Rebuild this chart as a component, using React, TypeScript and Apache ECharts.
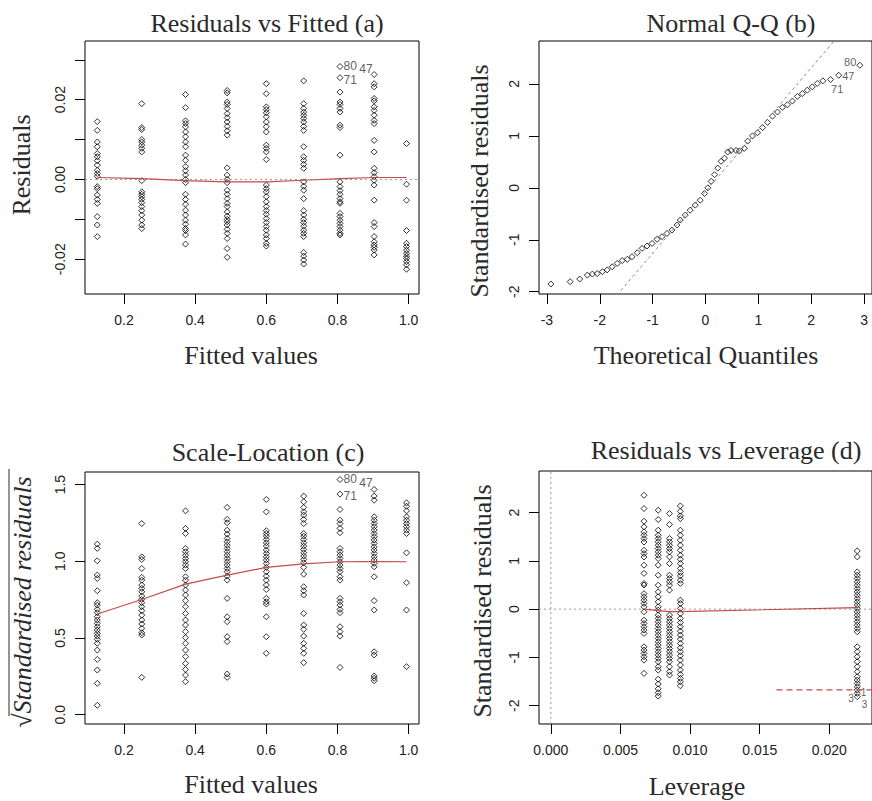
import React, { useEffect, useRef } from "react";
import * as echarts from "echarts";

// ---------- Data ----------
// Fitted value levels (panels a and c)
const fittedLevels = [0.125, 0.25, 0.373, 0.49, 0.6, 0.705, 0.807, 0.903, 0.994];

// Residuals per fitted level (panel a)
const residuals = [
  [0.0145, 0.0123, 0.0094, 0.0082, 0.0065, 0.0057, 0.0047, 0.0036, 0.0023, 0.0015, 0.0008, -0.0018, -0.0023, -0.0039, -0.005, -0.006, -0.0093, -0.0114, -0.0143],
  [0.019, 0.013, 0.0125, 0.01, 0.0094, 0.0086, 0.0078, 0.0069, -0.0003, -0.0031, -0.0037, -0.0043, -0.005, -0.0058, -0.0068, -0.0078, -0.0089, -0.0102, -0.0114, -0.0123],
  [0.0213, 0.018, 0.0147, 0.014, 0.0132, 0.0119, 0.0107, 0.0094, 0.0082, 0.0061, 0.0048, 0.0032, 0.0022, 0.0011, 0, -0.0008, -0.0037, -0.005, -0.0062, -0.0077, -0.0089, -0.0102, -0.0112, -0.0123, -0.0128, -0.0139, -0.0162],
  [0.0223, 0.0217, 0.0194, 0.0188, 0.0178, 0.0165, 0.0155, 0.0144, 0.0133, 0.0122, 0.0111, 0.0029, 0.0011, 0, -0.0008, -0.0027, -0.0037, -0.0048, -0.006, -0.0068, -0.0081, -0.0092, -0.01, -0.0106, -0.0114, -0.0125, -0.0135, -0.0148, -0.0173, -0.0195],
  [0.024, 0.0215, 0.0182, 0.0175, 0.0167, 0.0157, 0.0144, 0.0132, 0.0119, 0.0086, 0.0078, 0.0069, 0.005, -0.0014, -0.0023, -0.0031, -0.0043, -0.0056, -0.0068, -0.0078, -0.0087, -0.0098, -0.0108, -0.0118, -0.0127, -0.0139, -0.0148, -0.016, -0.0167],
  [0.0247, 0.019, 0.0178, 0.0169, 0.0161, 0.0153, 0.0144, 0.0133, 0.0123, 0.0082, 0.0057, 0.0048, 0.0038, 0.0028, -0.0006, -0.0017, -0.0027, -0.0048, -0.0078, -0.0089, -0.01, -0.0108, -0.0117, -0.0127, -0.0135, -0.0143, -0.0183, -0.0192, -0.0202, -0.0212],
  [0.0283, 0.0255, 0.0219, 0.0194, 0.0188, 0.0178, 0.0169, 0.0136, 0.013, 0.0061, -0.0006, -0.0018, -0.0028, -0.0037, -0.0048, -0.0056, -0.006, -0.0085, -0.0093, -0.0102, -0.011, -0.0118, -0.0127, -0.0135, -0.0139],
  [0.0263, 0.024, 0.0232, 0.0203, 0.0197, 0.0182, 0.0173, 0.0161, 0.0148, 0.014, 0.0098, 0.0069, 0.0028, 0.0017, 0.0007, -0.0002, -0.0014, -0.0052, -0.0108, -0.0118, -0.0143, -0.0156, -0.0164, -0.017, -0.0177, -0.0189],
  [0.009, -0.0012, -0.0052, -0.0128, -0.016, -0.0168, -0.0177, -0.0185, -0.0192, -0.0198, -0.0206, -0.0214, -0.0225],
];
const residualSmooth = [0.0005, 0.0002, -0.0003, -0.0006, -0.0006, -0.0002, 0.0002, 0.0005, 0.0005];

// sqrt(|standardised residuals|) per fitted level (panel c)
const sqrtStdResid = [
  [1.112, 1.084, 1.003, 0.91, 0.888, 0.808, 0.73, 0.714, 0.686, 0.665, 0.638, 0.617, 0.595, 0.573, 0.552, 0.53, 0.512, 0.491, 0.465, 0.421, 0.36, 0.291, 0.204, 0.061],
  [1.246, 1.029, 1.012, 0.953, 0.895, 0.877, 0.845, 0.823, 0.801, 0.773, 0.751, 0.73, 0.704, 0.678, 0.649, 0.617, 0.591, 0.562, 0.534, 0.519, 0.243],
  [1.329, 1.214, 1.181, 1.084, 1.062, 1.04, 1.018, 0.997, 0.975, 0.953, 0.899, 0.877, 0.845, 0.812, 0.78, 0.743, 0.704, 0.66, 0.617, 0.584, 0.541, 0.502, 0.465, 0.421, 0.378, 0.334, 0.295, 0.258, 0.215],
  [1.351, 1.273, 1.251, 1.203, 1.177, 1.149, 1.127, 1.105, 1.084, 1.062, 1.04, 1.018, 0.997, 0.975, 0.953, 0.932, 0.903, 0.877, 0.758, 0.638, 0.606, 0.508, 0.476, 0.265, 0.243],
  [1.403, 1.322, 1.199, 1.181, 1.164, 1.142, 1.12, 1.099, 1.073, 1.051, 1.029, 1.008, 0.986, 0.96, 0.932, 0.903, 0.877, 0.845, 0.816, 0.758, 0.736, 0.721, 0.638, 0.508, 0.4],
  [1.425, 1.388, 1.351, 1.322, 1.301, 1.273, 1.246, 1.181, 1.164, 1.142, 1.12, 1.099, 1.077, 1.055, 1.034, 1.012, 0.99, 0.96, 0.916, 0.834, 0.808, 0.78, 0.66, 0.584, 0.556, 0.512, 0.465, 0.432, 0.4, 0.339],
  [1.533, 1.438, 1.338, 1.268, 1.246, 1.214, 1.186, 1.084, 1.062, 1.04, 1.018, 0.997, 0.975, 0.953, 0.932, 0.899, 0.877, 0.758, 0.736, 0.714, 0.686, 0.665, 0.573, 0.541, 0.512, 0.308],
  [1.468, 1.425, 1.398, 1.29, 1.268, 1.246, 1.225, 1.203, 1.181, 1.16, 1.138, 1.116, 1.094, 1.073, 1.051, 1.029, 1.008, 0.986, 0.964, 0.899, 0.743, 0.682, 0.41, 0.389, 0.252, 0.237, 0.221],
  [1.381, 1.359, 1.329, 1.29, 1.268, 1.246, 1.225, 1.203, 1.181, 1.055, 0.86, 0.682, 0.313],
];
const scaleSmooth = [0.656, 0.751, 0.851, 0.91, 0.96, 0.983, 0.997, 0.998, 0.997];

// Normal Q-Q (panel b)
const qqTheoretical = [-2.925, -2.56, -2.38, -2.235, -2.14, -2.05, -1.95, -1.86, -1.765, -1.67, -1.575, -1.48, -1.39, -1.29, -1.2, -1.105, -1.01, -0.917, -0.823, -0.729, -0.635, -0.54, -0.477, -0.383, -0.29, -0.194, -0.1, -0.019, 0.044, 0.107, 0.17, 0.232, 0.295, 0.358, 0.42, 0.484, 0.578, 0.64, 0.734, 0.797, 0.89, 0.985, 1.08, 1.174, 1.268, 1.362, 1.456, 1.55, 1.644, 1.738, 1.832, 1.926, 2.02, 2.115, 2.22, 2.367, 2.52, 2.92];
const qqSample = [-1.852, -1.807, -1.756, -1.68, -1.66, -1.65, -1.615, -1.58, -1.52, -1.455, -1.4, -1.377, -1.326, -1.25, -1.166, -1.12, -1.07, -0.99, -0.94, -0.878, -0.813, -0.717, -0.62, -0.525, -0.43, -0.333, -0.237, -0.11, 0.0, 0.125, 0.253, 0.38, 0.51, 0.57, 0.69, 0.72, 0.72, 0.71, 0.76, 0.9, 1.0, 1.06, 1.16, 1.26, 1.38, 1.46, 1.55, 1.6, 1.67, 1.76, 1.815, 1.88, 1.944, 2.01, 2.06, 2.085, 2.167, 2.36];
const qqLineX = [-3.15, 3.15];
const qqLineY = [-3.82, 3.68];

// Residuals vs Leverage (panel d)
const leverageLevels = [0.00669, 0.00771, 0.00852, 0.0093, 0.022];
const leverageStdResid = [
  [2.358, 2.082, 1.82, 1.703, 1.6, 1.53, 1.46, 1.39, 1.22, 1.15, 1.08, 0.91, 0.74, 0.53, 0.5, 0.32, 0.255, 0.186, 0.117, 0.048, -0.055, -0.228, -0.296, -0.365, -0.434, -0.503, -0.779, -0.848, -0.917, -0.986, -1.055, -1.33],
  [2.048, 1.855, 1.634, 1.53, 1.462, 1.393, 1.324, 1.255, 1.186, 1.117, 1.048, 0.91, 0.703, 0.496, 0.358, 0.255, 0.152, 0.048, -0.021, -0.124, -0.193, -0.262, -0.331, -0.4, -0.469, -0.538, -0.607, -0.676, -0.745, -0.814, -0.882, -0.951, -1.02, -1.089, -1.193, -1.262, -1.45, -1.55, -1.65, -1.73, -1.8],
  [1.979, 1.751, 1.462, 1.393, 1.324, 1.255, 1.186, 1.082, 0.945, 0.703, 0.634, 0.565, 0.496, 0.393, -0.124, -0.193, -0.262, -0.331, -0.4, -0.469, -0.538, -0.607, -0.676, -0.745, -0.814, -0.882, -0.951, -1.02, -1.089, -1.193, -1.296, -1.365],
  [2.137, 2.027, 1.93, 1.875, 1.634, 1.53, 1.427, 1.324, 1.22, 1.117, 1.034, 0.945, 0.841, 0.758, 0.689, 0.6, 0.531, 0.186, 0.117, 0.014, -0.09, -0.193, -0.276, -0.365, -0.455, -0.538, -0.62, -0.71, -0.8, -0.882, -0.965, -1.055, -1.158, -1.262, -1.351, -1.434, -1.503, -1.586],
  [1.206, 1.082, 0.772, 0.703, 0.634, 0.565, 0.496, 0.427, 0.358, 0.29, 0.221, 0.152, 0.083, 0.014, -0.055, -0.124, -0.193, -0.262, -0.331, -0.4, -0.469, -0.779, -0.882, -0.986, -1.089, -1.193, -1.296, -1.4, -1.468, -1.537, -1.606, -1.675, -1.744, -1.813],
];
const leverageSmoothX = [0.00669, 0.00771, 0.00852, 0.0093, 0.022];
const leverageSmoothY = [0.0, -0.03, -0.05, -0.05, 0.03];
const cookX = [0.0162, 0.0235];
const cookY = [-1.67, -1.67];

// Identified observations
const idNames = ["80", "71", "47"];
const idFitted = [0.807, 0.807, 0.903];
const idResid = [0.0283, 0.0255, 0.0263];
const idSqrt = [1.533, 1.438, 1.468];
const idQQx = [2.92, 2.367, 2.52];
const idQQy = [2.36, 2.085, 2.167];
const levIdNames = ["3", "1", "3"];
const levIdY = [-1.813, -1.744, -1.813];

// Tick values
const fitTicks = [0.2, 0.4, 0.6, 0.8, 1.0];
const residTicks = [-0.02, -0.01, 0, 0.01, 0.02, 0.03];
const residLabels = [-0.02, 0, 0.02];
const qqXTicks = [-3, -2, -1, 0, 1, 2, 3];
const stdTicks = [-2, -1, 0, 1, 2];
const slTicks = [0, 0.5, 1.0, 1.5];
const levTicks = [0, 0.005, 0.01, 0.015, 0.02];

// ---------- Styling ----------
const SERIF = "'Liberation Serif', 'Times New Roman', serif";
const SANS = "'Liberation Sans', Arial, sans-serif";
const RED = "#c24a4a";
const INK = "#222";

const groupPts = (levels: number[], groups: number[][]) =>
  groups.flatMap((g, i) => g.map((v) => [levels[i], v]));
const zip = (xs: number[], ys: number[]) => xs.map((x, i) => [x, ys[i]]);

const mkX = (gi: number, min: number, max: number, ticks: number[], dec: number) => ({
  type: "value",
  gridIndex: gi,
  min,
  max,
  axisLine: { show: false, onZero: false },
  splitLine: { show: false },
  axisTick: { show: true, length: 10, customValues: ticks, lineStyle: { color: "#000", width: 1 } },
  axisLabel: {
    customValues: ticks,
    formatter: (v: number) => v.toFixed(dec),
    fontFamily: SANS,
    fontSize: 14,
    color: INK,
    margin: 19,
  },
});

const mkY = (gi: number, min: number, max: number, ticks: number[], labels: number[], dec: number) => ({
  type: "value",
  gridIndex: gi,
  min,
  max,
  axisLine: { show: false, onZero: false },
  splitLine: { show: false },
  axisTick: { show: true, length: 10, customValues: ticks, lineStyle: { color: "#000", width: 1 } },
  axisLabel: {
    customValues: labels,
    rotate: 90,
    formatter: (v: number) => v.toFixed(dec),
    fontFamily: SANS,
    fontSize: 14,
    color: INK,
    margin: 18,
  },
});

const pointStyle = {
  type: "scatter",
  symbol: "diamond",
  symbolSize: 6,
  itemStyle: { color: "rgba(0,0,0,0)", borderColor: "#000", borderWidth: 1 },
  silent: true,
};

const lineSeries = (xi: number, data: number[][], color: string, width: number, type: any, z = 3) => ({
  type: "line",
  xAxisIndex: xi,
  yAxisIndex: xi,
  data,
  symbol: "none",
  silent: true,
  clip: true,
  z,
  lineStyle: { color, width, type },
});

const labelSeries = (xi: number, items: any[], fontSize = 12) => ({
  type: "scatter",
  xAxisIndex: xi,
  yAxisIndex: xi,
  symbol: "circle",
  symbolSize: 1,
  itemStyle: { color: "rgba(0,0,0,0)" },
  silent: true,
  z: 5,
  data: items,
  label: {
    show: true,
    formatter: (p: any) => p.name,
    position: "right",
    distance: 3,
    fontFamily: SANS,
    fontSize,
    lineHeight: fontSize,
    color: "#333",
  },
});

const txt = (text: string, x: number, y: number, opts: any = {}) => ({
  type: "text",
  x,
  y,
  rotation: opts.rotation || 0,
  silent: true,
  style: {
    text,
    fontFamily: SERIF,
    fontSize: opts.fontSize || 26,
    fontStyle: opts.italic ? "italic" : "normal",
    fill: "#2a2a2a",
    textAlign: "center",
    textVerticalAlign: "middle",
    align: "center",
    verticalAlign: "middle",
  },
});

export default function App() {
  const ref = useRef<HTMLDivElement>(null);

  useEffect(() => {
    const chart = echarts.init(ref.current!, null, { renderer: "svg" });

    const grids = [
      { left: 85, top: 41, width: 334, height: 253 },
      { left: 539, top: 41, width: 335, height: 253 },
      { left: 85, top: 472, width: 334, height: 252 },
      { left: 539, top: 471, width: 336, height: 253 },
    ].map((g) => ({ ...g, show: true, borderColor: "#000", borderWidth: 1, backgroundColor: "transparent" }));

    const xAxes = [
      mkX(0, 0.0905, 1.029, fitTicks, 1),
      mkX(1, -3.15, 3.15, qqXTicks, 0),
      mkX(2, 0.0905, 1.029, fitTicks, 1),
      mkX(3, -0.00085, 0.02306, levTicks, 3),
    ];
    const yAxes = [
      mkY(0, -0.0287, 0.0347, residTicks, residLabels, 2),
      mkY(1, -2.044, 2.827, stdTicks, stdTicks, 0),
      mkY(2, -0.061, 1.582, slTicks, slTicks, 1),
      mkY(3, -2.378, 2.86, stdTicks, stdTicks, 0),
    ];

    const series: any[] = [
      // Panel a
      { ...pointStyle, xAxisIndex: 0, yAxisIndex: 0, data: groupPts(fittedLevels, residuals) },
      lineSeries(0, [[0.0905, 0], [1.029, 0]], "#9a9a9a", 1, [2, 3]),
      lineSeries(0, zip(fittedLevels, residualSmooth), RED, 1.2, "solid", 4),
      labelSeries(0, [
        { name: idNames[0], value: [idFitted[0], idResid[0]], label: { offset: [0, -1] } },
        { name: idNames[1], value: [idFitted[1], idResid[1]], label: { offset: [0, 2] } },
        { name: idNames[2], value: [idFitted[2], idResid[2]], label: { position: "left", distance: 1, offset: [0, -6] } },
      ]),
      // Panel b
      { ...pointStyle, xAxisIndex: 1, yAxisIndex: 1, data: zip(qqTheoretical, qqSample) },
      lineSeries(1, zip(qqLineX, qqLineY), "#8a8a8a", 1, [3, 3]),
      labelSeries(1, [
        { name: idNames[0], value: [idQQx[0], idQQy[0]], label: { position: "left", distance: 3, offset: [0, -3] } },
        { name: idNames[1], value: [idQQx[1], idQQy[1]], label: { position: "right", distance: 2, offset: [-2, 9] } },
        { name: idNames[2], value: [idQQx[2], idQQy[2]], label: { position: "right", distance: 3, offset: [0, 1] } },
      ], 11),
      // Panel c
      { ...pointStyle, xAxisIndex: 2, yAxisIndex: 2, data: groupPts(fittedLevels, sqrtStdResid) },
      lineSeries(2, zip(fittedLevels, scaleSmooth), RED, 1.2, "solid", 4),
      labelSeries(2, [
        { name: idNames[0], value: [idFitted[0], idSqrt[0]], label: { offset: [0, -1] } },
        { name: idNames[1], value: [idFitted[1], idSqrt[1]], label: { offset: [0, 2] } },
        { name: idNames[2], value: [idFitted[2], idSqrt[2]], label: { position: "left", distance: 1, offset: [0, -6] } },
      ]),
      // Panel d
      { ...pointStyle, xAxisIndex: 3, yAxisIndex: 3, data: groupPts(leverageLevels, leverageStdResid) },
      lineSeries(3, [[-0.00085, 0], [0.02306, 0]], "#9a9a9a", 1, [2, 3]),
      lineSeries(3, [[0, -2.378], [0, 2.86]], "#9a9a9a", 1, [2, 3]),
      lineSeries(3, zip(leverageSmoothX, leverageSmoothY), RED, 1.2, "solid", 4),
      lineSeries(3, zip(cookX, cookY), RED, 1.2, [6, 4], 4),
      labelSeries(3, [
        { name: levIdNames[0], value: [leverageLevels[4], levIdY[0]], label: { position: "left", distance: 3, offset: [0, 2] } },
        { name: levIdNames[1], value: [leverageLevels[4], levIdY[1]], label: { position: "right", distance: 3, offset: [0, -1] } },
        { name: levIdNames[2], value: [leverageLevels[4], levIdY[2]], label: { position: "right", distance: 4, offset: [0, 8] } },
      ], 10),
    ];

    const graphic = [
      // Titles
      txt("Residuals vs Fitted (a)", 267, 23),
      txt("Normal Q-Q (b)", 731, 23),
      txt("Scale-Location (c)", 268, 452),
      txt("Residuals vs Leverage (d)", 726, 450),
      // x axis names
      txt("Fitted values", 251, 355),
      txt("Theoretical Quantiles", 706, 355),
      txt("Fitted values", 251, 784),
      txt("Leverage", 697, 786),
      // y axis names
      txt("Residuals", 21, 165, { rotation: Math.PI / 2 }),
      txt("Standardised residuals", 479, 181, { rotation: Math.PI / 2 }),
      txt("\u221AStandardised residuals", 22, 602, { rotation: Math.PI / 2, italic: true }),
      txt("Standardised residuals", 482, 601, { rotation: Math.PI / 2 }),
      // radical vinculum over the italic label
      {
        type: "line",
        silent: true,
        shape: { x1: 9, y1: 716, x2: 9, y2: 469 },
        style: { stroke: "#2a2a2a", lineWidth: 1 },
      },
    ];

    chart.setOption({
      animation: false,
      backgroundColor: "#fff",
      grid: grids,
      xAxis: xAxes,
      yAxis: yAxes,
      series,
      graphic,
    });

    return () => chart.dispose();
  }, []);

  return (
    <div
      ref={ref}
      style={{ position: "fixed", left: 0, top: 0, width: 872, height: 801, background: "#fff" }}
    />
  );
}
